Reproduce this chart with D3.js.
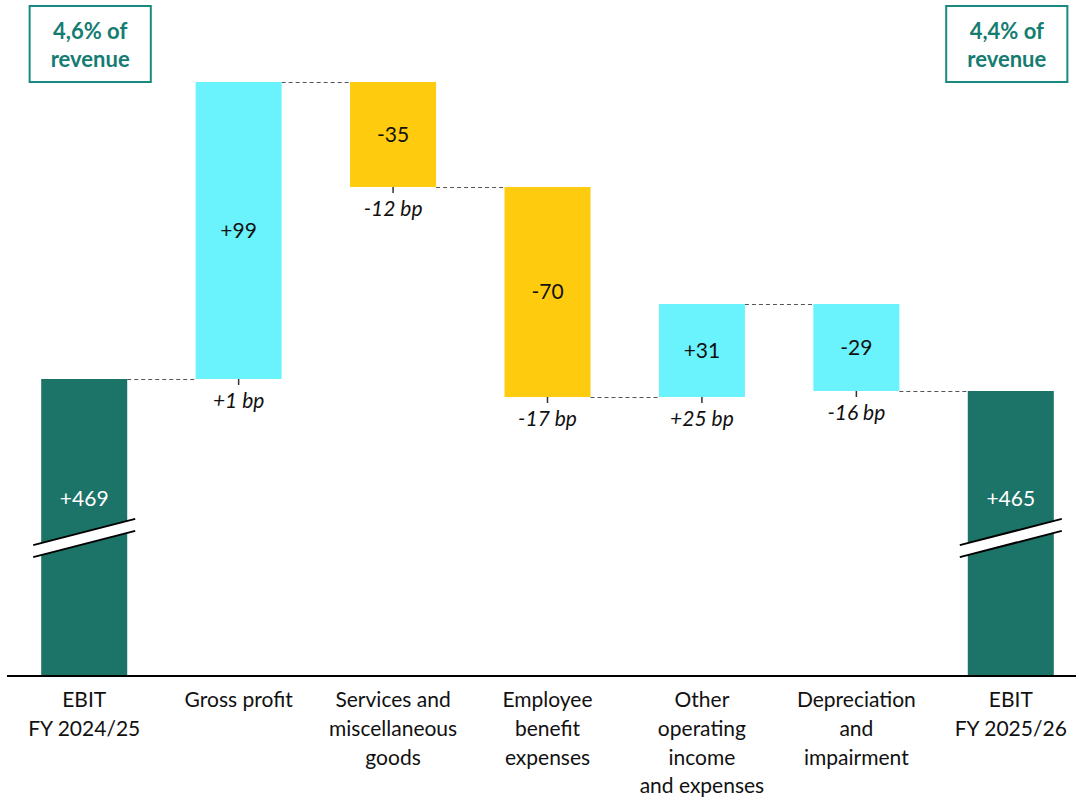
<!DOCTYPE html>
<html>
<head>
<meta charset="utf-8">
<script src="https://cdn.jsdelivr.net/npm/d3@7"></script>
<style>
  body { margin: 0; background: #fff; }
  svg { display: block; font-family: Lato, "Noto Sans", sans-serif; }
</style>
</head>
<body>
<svg id="chart" width="1076" height="797"></svg>
<script>
// EBIT bridge FY 2024/25 -> FY 2025/26

const categories = [
  ["EBIT", "FY 2024/25"],
  ["Gross profit"],
  ["Services and", "miscellaneous", "goods"],
  ["Employee", "benefit", "expenses"],
  ["Other", "operating", "income", "and expenses"],
  ["Depreciation", "and", "impairment"],
  ["EBIT", "FY 2025/26"]
];
const startTotal = 469;
const endTotal = 465;
const deltas = [null, 99, -35, -70, 31, -29, null];
const valueLabels = ["+469", "+99", "-35", "-70", "+31", "-29", "+465"];
const bpLabels = [null, "+1 bp", "-12 bp", "-17 bp", "+25 bp", "-16 bp", null];
const barKinds = ["total", "cyan", "yellow", "yellow", "cyan", "cyan", "total"];
const revenueBoxes = [
  { index: 0, lines: ["4,6% of", "revenue"] },
  { index: 6, lines: ["4,4% of", "revenue"] }
];
const axisFloor = 370; // value at the broken baseline

const colors = { total: "#1c7367", cyan: "#6af3fd", yellow: "#ffcb0e" };
const teal = "#157c72";

const svg = d3.select('#chart');
const width = +svg.attr('width');

// build waterfall segments
let running = startTotal;
const bars = categories.map((c, i) => {
  if (i === 0) return { i, lo: axisFloor, hi: startTotal, end: startTotal };
  if (i === categories.length - 1) return { i, lo: axisFloor, hi: endTotal, end: endTotal };
  const from = running;
  running += deltas[i];
  return { i, lo: Math.min(from, running), hi: Math.max(from, running), end: running };
});

const x = d3.scaleBand()
  .domain(d3.range(categories.length))
  .range([7, 1088])
  .paddingInner(0.443)
  .paddingOuter(0.2215);

const y = d3.scaleLinear()
  .domain([axisFloor, 568])
  .range([676, 82]);

const baseY = y(axisFloor);

// connectors
const conn = svg.append('g');
bars.slice(0, -1).forEach((b, i) => {
  conn.append('line')
    .attr('x1', x(i) + x.bandwidth())
    .attr('x2', x(i + 1))
    .attr('y1', y(b.end) + 0.5)
    .attr('y2', y(b.end) + 0.5)
    .attr('stroke', '#555')
    .attr('stroke-width', 1)
    .attr('stroke-dasharray', '4,3');
});

// bars
svg.append('g').selectAll('rect')
  .data(bars)
  .enter()
  .append('rect')
  .attr('x', d => x(d.i))
  .attr('y', d => y(d.hi))
  .attr('width', x.bandwidth())
  .attr('height', d => y(d.lo) - y(d.hi))
  .attr('fill', d => colors[barKinds[d.i]]);

// axis break marks on total bars
const breakY = baseY - 138;
const slope = 26 / 101;
bars.filter(d => barKinds[d.i] === 'total').forEach(d => {
  const cx = x(d.i) + x.bandwidth() / 2;
  const x0 = cx - 51, x1 = cx + 51;
  const yAt = (xx, off) => breakY + off - (xx - cx) * slope;
  const g = svg.append('g');
  g.append('polygon')
    .attr('points', [
      [x0, yAt(x0, -6)], [x1, yAt(x1, -6)], [x1, yAt(x1, 6)], [x0, yAt(x0, 6)]
    ].map(p => p.join(',')).join(' '))
    .attr('fill', '#fff');
  [-6, 6].forEach(off => {
    g.append('line')
      .attr('x1', x0).attr('y1', yAt(x0, off))
      .attr('x2', x1).attr('y2', yAt(x1, off))
      .attr('stroke', '#000')
      .attr('stroke-width', 2);
  });
});

// value labels
svg.append('g').selectAll('text')
  .data(bars)
  .enter()
  .append('text')
  .attr('x', d => x(d.i) + x.bandwidth() / 2)
  .attr('y', d => barKinds[d.i] === 'total' ? breakY - 39 : (y(d.lo) + y(d.hi)) / 2)
  .attr('dy', '0.35em')
  .attr('text-anchor', 'middle')
  .attr('font-size', '21px')
  .attr('fill', d => barKinds[d.i] === 'total' ? '#fff' : '#111')
  .text(d => valueLabels[d.i]);

// bp ticks and labels
const bpBars = bars.filter(d => bpLabels[d.i]);
svg.append('g').selectAll('line')
  .data(bpBars)
  .enter()
  .append('line')
  .attr('x1', d => x(d.i) + x.bandwidth() / 2)
  .attr('x2', d => x(d.i) + x.bandwidth() / 2)
  .attr('y1', d => y(d.lo))
  .attr('y2', d => y(d.lo) + 6)
  .attr('stroke', '#333')
  .attr('stroke-width', 1.5);

svg.append('g').selectAll('text')
  .data(bpBars)
  .enter()
  .append('text')
  .attr('x', d => x(d.i) + x.bandwidth() / 2)
  .attr('y', d => y(d.lo) + 22)
  .attr('dy', '0.35em')
  .attr('text-anchor', 'middle')
  .attr('font-size', '21px')
  .attr('font-style', 'italic')
  .attr('fill', '#111')
  .text(d => bpLabels[d.i]);

// baseline
svg.append('line')
  .attr('x1', 7).attr('x2', width)
  .attr('y1', baseY).attr('y2', baseY)
  .attr('stroke', '#000')
  .attr('stroke-width', 2);

// category labels
const catG = svg.append('g').selectAll('text')
  .data(categories)
  .enter()
  .append('text')
  .attr('text-anchor', 'middle')
  .attr('font-size', '21px')
  .attr('fill', '#111')
  .attr('transform', (d, i) => `translate(${x(i) + x.bandwidth() / 2},${baseY + 24})`);

catG.selectAll('tspan')
  .data(d => d)
  .enter()
  .append('tspan')
  .attr('x', 0)
  .attr('y', (d, j) => j * 28.6)
  .attr('dy', '0.35em')
  .text(d => d);

// revenue boxes (nudged slightly toward the chart centre)
revenueBoxes.forEach(b => {
  const cx = x(b.index) + x.bandwidth() / 2 + (b.index === 0 ? 6 : -4);
  const g = svg.append('g');
  const t = g.append('text')
    .attr('text-anchor', 'middle')
    .attr('font-size', '22px')
    .attr('font-weight', 'bold')
    .attr('fill', teal);
  t.selectAll('tspan')
    .data(b.lines)
    .enter()
    .append('tspan')
    .attr('x', cx)
    .attr('y', (d, j) => 31 + j * 28.5)
    .attr('dy', '0.35em')
    .text(d => d);
  const w = t.node().getBBox().width + 42;
  g.insert('rect', 'text')
    .attr('x', cx - w / 2)
    .attr('y', 6)
    .attr('width', w)
    .attr('height', 76)
    .attr('fill', '#fff')
    .attr('stroke', '#1a8a80')
    .attr('stroke-width', 2);
});
</script>
</body>
</html>
